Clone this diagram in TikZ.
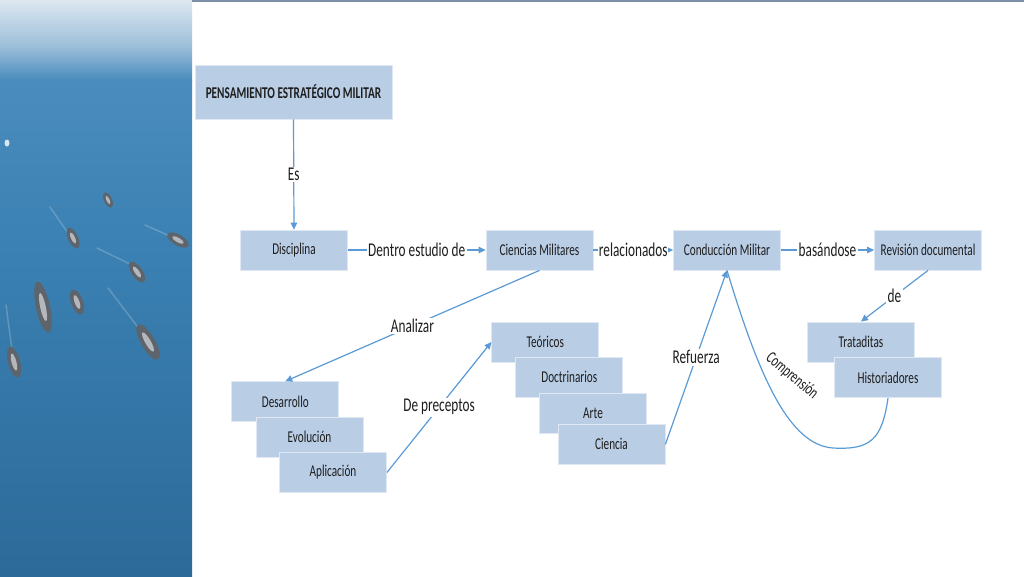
\documentclass[tikz,border=0pt]{standalone}
\usepackage{fontspec}
\setmainfont{Carlito}[FakeStretch=0.68]
\usetikzlibrary{arrows.meta}
\definecolor{boxfill}{HTML}{B9CDE5}
\definecolor{arrowc}{HTML}{5B9BD5}
\definecolor{topline}{HTML}{7C90A8}
\definecolor{seaA}{HTML}{DCE7F0}
\definecolor{seaB}{HTML}{9FC0DA}
\definecolor{seaC}{HTML}{4A8CBD}
\definecolor{seaD}{HTML}{3A80B2}
\definecolor{seaE}{HTML}{2C6A99}
\definecolor{shipc}{HTML}{5E646C}
\definecolor{shipl}{HTML}{B4B8BD}
\definecolor{txt}{HTML}{1E1E1E}
\begin{document}
\begin{tikzpicture}[x=1pt,y=-1pt,
  box/.style={fill=boxfill, draw=white!55!boxfill, line width=0.8pt, minimum width=107pt, minimum height=40pt, inner sep=0pt, font=\fontsize{16.5}{19}\selectfont, text=txt},
  conn/.style={draw=arrowc, line width=1.2pt, -{Triangle[length=7pt,width=6.5pt]}},
  plainconn/.style={draw=arrowc, line width=1.2pt},
  lbl/.style={fill=white, inner sep=1.5pt, font=\fontsize{19.5}{22}\selectfont, text=txt}]
\useasboundingbox (0,0) rectangle (1024,576);
\fill[white] (0,0) rectangle (1024,576);
% photo strip
\shade[top color=seaA, bottom color=seaB] (0,0) rectangle (192,45);
\shade[top color=seaB, bottom color=seaC] (0,45) rectangle (192,80);
\shade[top color=seaC, bottom color=seaD] (0,80) rectangle (192,260);
\shade[top color=seaD, bottom color=seaE] (0,260) rectangle (192,576);
% wakes
\foreach \x/\y/\xa/\ya in {50/207/70/236, 97/248/132/265, 145/225/174/238, 108/288/140/330, 6/305/12/350}
  \draw[white, opacity=0.2, line width=1.5pt, line cap=round] (\x,\y) -- (\xa,\ya);
% ships
\foreach \x/\y/\l/\w/\a in {108/200/8/4/-65, 73/238/11/5/-65, 178/240/12/5.5/-30, 137/272/12/5.5/-55, 77/302/13/6/-70, 43/307/26/7/-78, 148/342/20/7/-60, 14/362/16/6/-75}
{
  \fill[shipc, rotate around={\a:(\x,\y)}] (\x,\y) ellipse ({\l pt} and {\w pt});
  \fill[shipl, rotate around={\a:(\x,\y)}] (\x,\y) ellipse ({0.55*\l pt} and {0.4*\w pt});
}
\fill[white, opacity=0.8] (7,143) ellipse (2.5pt and 3.5pt);
% top line
\fill[topline] (192,0) rectangle (1024,1.8);

% nodes
\node[box, minimum width=197pt, minimum height=54pt, font=\fontsize{16.5}{19}\selectfont\bfseries] (title) at (293.5,92) {PENSAMIENTO ESTRATÉGICO MILITAR};
\node[box] (disc) at (294,250) {Disciplina};
\node[box] (cm) at (539.5,250) {Ciencias Militares};
\node[box] (cond) at (727,250) {Conducción Militar};
\node[box] (rev) at (928,250) {Revisión documental};
\node[box] (trat) at (861,342) {Trataditas};
\node[box] (hist) at (888,377.7) {Historiadores};
\node[box] (des) at (285.3,401.7) {Desarrollo};
\node[box] (evo) at (309.5,437) {Evolución};
\node[box] (apl) at (333,472.5) {Aplicación};
\node[box] (teo) at (545.3,342) {Teóricos};
\node[box] (doc) at (569.3,377.3) {Doctrinarios};
\node[box] (arte) at (593,413.3) {Arte};
\node[box] (cien) at (611.5,444.3) {Ciencia};

% connectors
\draw[conn] (title.south) -- node[lbl] {Es} (disc.north);
\draw[conn] (disc.east) -- node[lbl] {Dentro estudio de} (cm.west);
\draw[conn] (cm.east) -- node[lbl, inner sep=0.5pt] {relacionados} (cond.west);
\draw[conn] (cond.east) -- node[lbl] {basándose} (rev.west);
\draw[conn] (cm.south) -- node[lbl] {Analizar} (des.north);
\draw[conn] (apl.east) -- node[lbl] {De preceptos} (teo.west);
\draw[conn] (cien.east) -- node[lbl] {Refuerza} (cond.south);
\draw[conn] (rev.south) -- node[lbl] {de} (trat.north);
\draw[plainconn] (hist.south) .. controls (882,440) and (870,450) .. (833,448) .. controls (790,445) and (760,380) .. (cond.south);
\node[font=\fontsize{17}{20}\selectfont, text=txt, rotate=-40] (compr) at (792,376) {Comprensión};
\end{tikzpicture}
\end{document}
